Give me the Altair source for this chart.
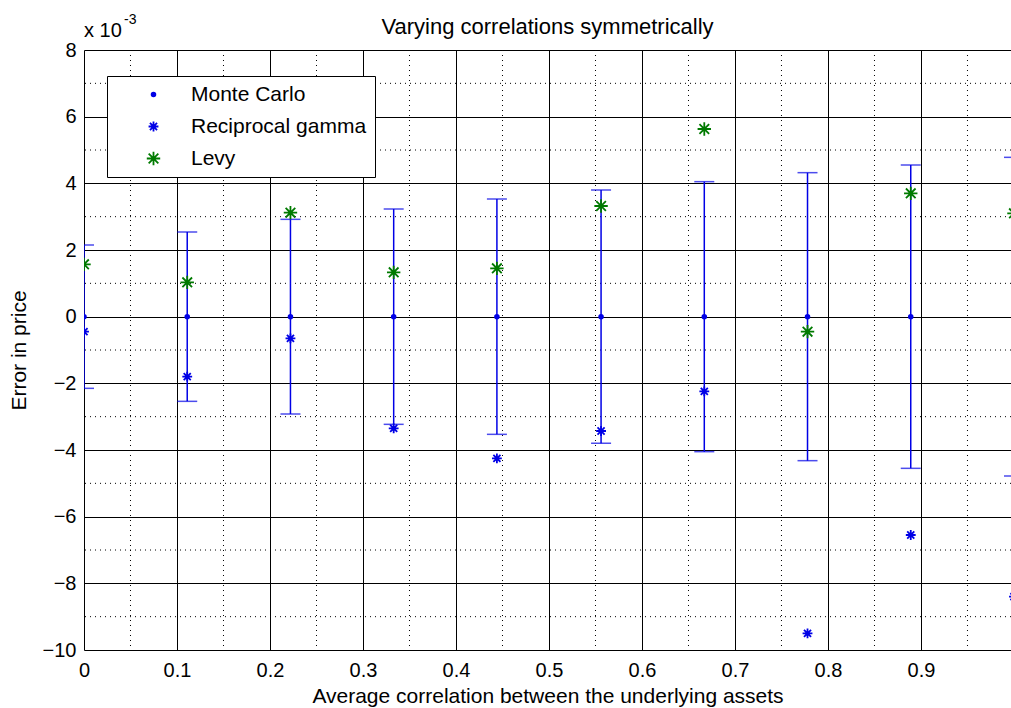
import altair as alt
import pandas as pd

# ---- data (values in units of 1e-3) ----
x_vals = [0.0, 0.111, 0.222, 0.333, 0.444, 0.556, 0.667, 0.778, 0.889, 1.0]
mc_vals = [0, 0, 0, 0, 0, 0, 0, 0, 0, 0]
mc_err = [2.15, 2.54, 2.92, 3.23, 3.53, 3.80, 4.05, 4.32, 4.55, 4.78]
rg_vals = [-0.45, -1.80, -0.65, -3.35, -4.25, -3.43, -2.24, -9.50, -6.55, -8.40]
levy_vals = [1.57, 1.03, 3.12, 1.33, 1.45, 3.32, 5.63, -0.45, 3.70, 3.10]

series_names = ["Monte Carlo", "Reciprocal gamma", "Levy"]
x_ticks = [0, 0.1, 0.2, 0.3, 0.4, 0.5, 0.6, 0.7, 0.8, 0.9]
y_ticks = [-10, -8, -6, -4, -2, 0, 2, 4, 6, 8]
x_minor = [0.05, 0.15, 0.25, 0.35, 0.45, 0.55, 0.65, 0.75, 0.85, 0.95]
y_minor = [-9, -7, -5, -3, -1, 1, 3, 5, 7]

BLUE = "#0000e6"
GREEN = "#007a00"
ASTERISK = "M-1,0L1,0M0,-1L0,1M-0.72,-0.72L0.72,0.72M-0.72,0.72L0.72,-0.72"
FONT = "Liberation Sans"
X_MAX = 0.9968  # right edge of the window cuts the axes just before x = 1

# ---- tables ----
err_df = pd.DataFrame({
    "x": x_vals,
    "lo": [m - e for m, e in zip(mc_vals, mc_err)],
    "hi": [m + e for m, e in zip(mc_vals, mc_err)],
})
cap_df = pd.concat([
    pd.DataFrame({"x": x_vals, "y": err_df["lo"]}),
    pd.DataFrame({"x": x_vals, "y": err_df["hi"]}),
])
pts_df = pd.concat([
    pd.DataFrame({"x": x_vals, "y": mc_vals, "series": series_names[0]}),
    pd.DataFrame({"x": x_vals, "y": rg_vals, "series": series_names[1]}),
    pd.DataFrame({"x": x_vals, "y": levy_vals, "series": series_names[2]}),
])
xminor_df = pd.DataFrame({"x": x_minor})
yminor_df = pd.DataFrame({"y": y_minor})

x_scale = alt.Scale(domain=[0, X_MAX], nice=False, zero=False)
y_scale = alt.Scale(domain=[-10, 8], nice=False, zero=False)

X_TITLE = "Average correlation between the underlying assets"
Y_TITLE = "Error in price"

x_axis = alt.Axis(values=x_ticks, format="~g", title=X_TITLE, grid=True,
                  labelPadding=10, titlePadding=5, labelFlush=False)
y_axis = alt.Axis(values=y_ticks, format="d", title=Y_TITLE, grid=True,
                  labelPadding=8, titlePadding=13, labelFlush=False)


def X(field="x"):
    return alt.X(f"{field}:Q", scale=x_scale, axis=x_axis, title=X_TITLE)


def Y(field="y"):
    return alt.Y(f"{field}:Q", scale=y_scale, axis=y_axis, title=Y_TITLE)


bars = alt.Chart(err_df).mark_rule(color=BLUE, strokeWidth=1.5, clip=True).encode(
    x=X("x"), y=Y("lo"), y2="hi:Q"
)

minor_v = alt.Chart(xminor_df).mark_rule(
    color="black", strokeWidth=1, strokeDash=[1, 4]
).encode(x=X("x"))

minor_h = alt.Chart(yminor_df).mark_rule(
    color="black", strokeWidth=1, strokeDash=[1, 4]
).encode(y=Y("y"))

caps = alt.Chart(cap_df).mark_tick(
    orient="horizontal", size=20, thickness=1.5, color=BLUE, clip=True
).encode(x=X("x"), y=Y("y"))

legend = alt.Legend(
    orient="none", legendX=23, legendY=26, title=None,
    strokeColor="black", fillColor="white", padding=8,
    labelFont=FONT, labelFontSize=21, labelColor="black", labelLimit=400,
    symbolOffset=28, labelOffset=27, rowPadding=10,
    symbolStrokeWidth=1.8,
)

points = alt.Chart(pts_df).mark_point(filled=False, strokeWidth=1.8, opacity=1, clip=True).encode(
    x=X("x"),
    y=Y("y"),
    color=alt.Color("series:N",
                    scale=alt.Scale(domain=series_names, range=[BLUE, BLUE, GREEN]),
                    legend=legend),
    fill=alt.Fill("series:N",
                  scale=alt.Scale(domain=series_names, range=[BLUE, "transparent", "transparent"]),
                  legend=legend),
    shape=alt.Shape("series:N",
                    scale=alt.Scale(domain=series_names, range=["circle", ASTERISK, ASTERISK]),
                    legend=legend),
    size=alt.Size("series:N",
                  scale=alt.Scale(domain=series_names, range=[14, 180, 180]),
                  legend=legend),
)

exp_base = alt.Chart(pd.DataFrame({"t": ["x 10"]})).mark_text(
    align="left", baseline="middle", font=FONT, fontSize=20, color="black"
).encode(text="t:N", x=alt.value(0), y=alt.value(-19))

exp_sup = alt.Chart(pd.DataFrame({"t": ["-3"]})).mark_text(
    align="left", baseline="middle", font=FONT, fontSize=14, color="black"
).encode(text="t:N", x=alt.value(40), y=alt.value(-30))

chart = alt.layer(minor_v, minor_h, bars, caps, points, exp_base, exp_sup).properties(
    width=927,
    height=600,
    padding={"left": 84, "top": 50, "right": 0, "bottom": 58},
    autosize=alt.AutoSizeParams(type="none"),
    background="white",
    title=alt.TitleParams(
        "Varying correlations symmetrically", font=FONT, fontSize=22,
        fontWeight="normal", color="black", anchor="middle", frame="group",
        baseline="bottom", offset=-24, dy=24,
    ),
).configure_view(stroke=None).configure_axis(
    labelFont=FONT, titleFont=FONT, labelFontSize=20, titleFontSize=21,
    labelColor="black", titleColor="black", titleFontWeight="normal",
    domain=False, ticks=False, gridColor="black", gridOpacity=1, gridWidth=1,
)

chart.save("out.html", embed_options={"renderer": "svg", "actions": False})
